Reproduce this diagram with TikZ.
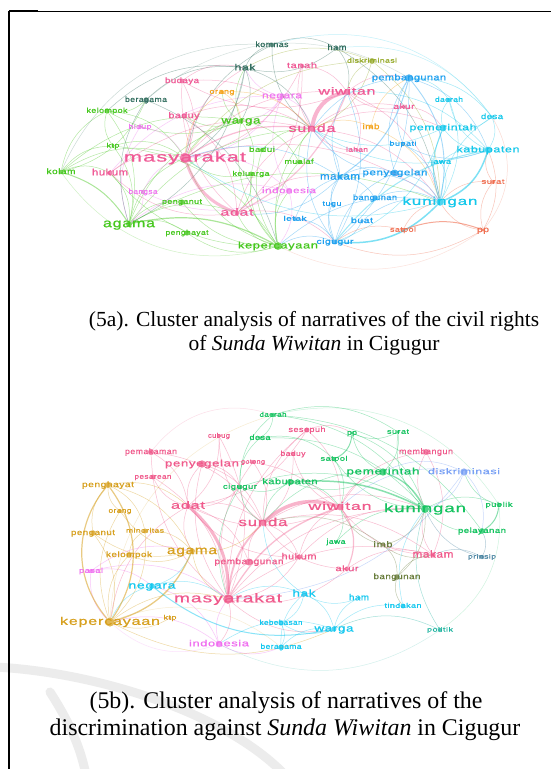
\documentclass[tikz,border=0pt]{standalone}
\usepackage{fontspec}
\usepackage{graphicx}
\setmainfont{Liberation Serif}
\newfontfamily\lblfont[LetterSpace=5,FakeBold=0.6]{Liberation Sans}

\definecolor{cpk}{RGB}{240,90,150}
\definecolor{cvi}{RGB}{240,120,240}
\definecolor{cgr}{RGB}{70,200,30}
\definecolor{cdt}{RGB}{50,110,95}
\definecolor{col}{RGB}{150,170,40}
\definecolor{cor}{RGB}{245,165,30}
\definecolor{cbl}{RGB}{30,160,240}
\definecolor{ccy}{RGB}{20,200,235}
\definecolor{csa}{RGB}{240,110,80}
\definecolor{bpk}{RGB}{240,90,140}
\definecolor{bgr}{RGB}{20,195,95}
\definecolor{bdi}{RGB}{120,160,245}
\definecolor{bgo}{RGB}{215,160,30}
\definecolor{bvi}{RGB}{240,110,240}
\definecolor{bcy}{RGB}{20,200,240}
\definecolor{bte}{RGB}{30,180,160}
\definecolor{bsl}{RGB}{70,130,160}
\definecolor{bol}{RGB}{105,125,60}

\def\topnodes{masy/185/158/cpk/122/10.7/masyarakat, adat/237/213/cpk/33/7.9/adat, sunda/312/129/cpk/47/8.8/sunda, wiw/347/92/cpk/57/7.9/wiwitan, hukum/110/173/cpk/36/7.2/hukum, budaya/182/81/cpk/34/6.1/budaya, baduy/184/116/cpk/31/6.5/baduy, tanah/302/66/cpk/30/6.3/tanah, akur/404/107/cpk/21/5.8/akur, lahan/357/150/cpk/22/5.2/lahan, negara/282/96/cvi/40/6.8/negara, indo/289/191/cvi/54/6.3/indonesia, hidup/140/127/cvi/23/5.3/hidup, bangsa/143/192/cvi/29/5.5/bangsa, warga/241/121/cgr/39/7.6/warga, agama/129/224/cgr/52/9.5/agama, kep/278/246/cgr/80/7.3/kepercayaan, kelompok/107/111/cgr/41/5.7/kelompok, ktp/113/146/cgr/13/5.1/ktp, kolam/61/172/cgr/29/6.2/kolam, penganut/182/202/cgr/40/5.6/penganut, penghayat/187/233/cgr/43/5.5/penghayat, badui/262/150/cgr/26/5.7/badui, mualaf/299/162/cgr/29/5.5/mualaf, keluarga/251/174/cgr/37/5.3/keluarga, hak/245/68/cdt/21/7/hak, komnas/272/45/cdt/33/6/komnas, ham/337/48/cdt/19/6.5/ham, beragama/146/100/cdt/42/5.8/beragama, disk/372/61/col/50/5/diskriminasi, orang/222/92/cor/25/5.6/orang, imb/371/127/cor/17/6.1/imb, pemb/409/78/cbl/74/6.8/pembangunan, makam/340/177/cbl/40/7.8/makam, penye/395/173/cbl/65/6.7/penyegelan, bangunan/375/198/cbl/44/6/bangunan, bupati/403/144/cbl/27/5.2/bupati, tugu/332/204/cbl/19/5.4/tugu, letak/295/219/cbl/23/5.3/letak, buat/362/221/cbl/22/6/buat, cigugur/335/242/cbl/37/5.8/cigugur, kuningan/440/202/ccy/75/8.8/kuningan, kab/488/150/ccy/63/7/kabupaten, pemerintah/443/128/ccy/67/6.8/pemerintah, daerah/449/100/ccy/28/5.4/daerah, desa/492/117/ccy/22/6/desa, jawa/441/162/ccy/20/5.6/jawa, surat/493/182/csa/23/5.3/surat, satpol/403/230/csa/26/5.1/satpol, pp/483/230/csa/12/6.3/pp}

\def\botnodes{daerah/273/415/bgr/27/5.2/daerah, sesepuh/307/430/bpk/37/5.8/sesepuh, pp/352/433/bgr/10/5.6/pp, surat/398/432/bgr/22/5.2/surat, cubug/219/436/bpk/22/5.2/cubug, desa/260/438/bgr/21/5.8/desa, pemak/151/452/bpk/52/6.2/pemakaman, memb/426/452/bpk/54/6.3/membangun, baduy/293/454/bpk/25/5.6/baduy, satpol/334/459/bgr/27/5.2/satpol, penye/202/464/bpk/74/7.3/penyegelan, gotong/253/462/bpk/24/4.9/gotong, pemer/383/472/bgr/73/7.3/pemerintah, disk/464/472/bdi/72/6.3/diskriminasi, pesarean/153/477/bpk/37/5.3/pesarean, kab/290/482/bgr/55/6.4/kabupaten, penghayat/108/485/bgo/52/6.2/penghayat, cigugur/240/487/bgr/34/5.5/cigugur, adat/188/506/bpk/34/8.1/adat, wiw/340/507/bpk/63/8.5/wiwitan, kun/425/509/bgr/82/9.4/kuningan, publik/499/505/bgr/27/5.2/publik, orang/120/511/bgo/23/5.3/orang, sunda/263/523/bpk/49/9/sunda, penganut/93/533/bgo/44/6/penganut, minor/145/531/bgo/38/5/minoritas, pelay/482/531/bgr/48/5.8/pelayanan, jawa/336/542/bgr/19/5.4/jawa, imb/383/545/bol/19/6.5/imb, agama/192/551/bgo/50/9.2/agama, kelompok/129/555/bgo/46/6.1/kelompok, hukum/299/557/bpk/35/7/hukum, makam/433/555/bpk/41/7.9/makam, prinsip/482/557/bsl/28/4.9/prinsip, pemb/249/562/bpk/69/6.5/pembangunan, pasal/91/571/bvi/24/5.5/pasal, akur/347/569/bpk/23/6.1/akur, bangunan/397/577/bol/47/6.2/bangunan, negara/152/586/bcy/47/7.6/negara, masy/228/599/bpk/108/9.8/masyarakat, hak/304/594/bcy/23/7.5/hak, ham/359/598/bcy/20/6.8/ham, tindakan/403/606/bcy/37/5.3/tindakan, kep/110/622/bgo/100/8.6/kepercayaan, ktp/170/618/bgo/13/5.1/ktp, kebebasan/281/623/bcy/43/5.5/kebebasan, warga/334/629/bcy/39/7.6/warga, politik/440/630/bte/26/4.7/politik, indo/219/644/bvi/60/6.8/indonesia, beragama/281/647/bcy/41/5.7/beragama}

\def\topedges{kolam/kelompok/cgr, kolam/ktp/cgr, kolam/hukum/cgr, kolam/masy/cgr, kolam/warga/cgr, kelompok/hak/cdt, beragama/hak/cdt, agama/penghayat/cgr, agama/penganut/cgr, agama/masy/cgr, agama/warga/cgr, agama/adat/cgr, ktp/agama/cgr, kelompok/agama/cgr, kep/warga/cgr, kep/badui/cgr, kep/mualaf/cgr, kep/keluarga/cgr, kep/penghayat/cgr, kep/penganut/cgr, kep/masy/cgr, kep/adat/cgr, kep/indo/cgr, warga/kelompok/cgr, warga/hak/cgr, warga/keluarga/cgr, warga/mualaf/cgr, warga/sunda/cgr, masy/warga/cgr, warga/orang/cgr, warga/baduy/cgr, beragama/kelompok/cgr, ktp/kelompok/cgr, kelompok/masy/cgr, ktp/kep/cgr, badui/sunda/cgr, mualaf/sunda/cgr, keluarga/adat/cgr, keluarga/masy/cgr, agama/kuningan/cgr, beragama/kolam/cgr, kep/sunda/cgr, agama/sunda/cgr, hukum/agama/cgr, kep/hukum/cgr, ktp/masy/cgr, masy/wiw/cpk, adat/sunda/cpk, sunda/akur/cpk, akur/wiw/cpk, hukum/masy/cpk, adat/hukum/cpk, budaya/masy/cpk, budaya/sunda/cpk, adat/budaya/cpk, baduy/masy/cpk, baduy/adat/cpk, baduy/sunda/cpk, tanah/wiw/cpk, sunda/tanah/cpk, tanah/masy/cpk, lahan/sunda/cpk, wiw/lahan/cpk, adat/makam/cpk, sunda/kuningan/cpk, wiw/kuningan/cpk, sunda/pemerintah/cpk, masy/kuningan/cpk, adat/cigugur/cpk, wiw/pemb/cpk, tanah/adat/cpk, akur/pemerintah/cpk, budaya/hak/cpk, hukum/sunda/cpk, masy/hak/cpk, wiw/budaya/cpk, negara/masy/cvi, hukum/negara/cvi, negara/hak/cvi, indo/negara/cvi, masy/indo/cvi, indo/kep/cvi, agama/indo/cvi, hidup/masy/cvi, agama/hidup/cvi, bangsa/masy/cvi, indo/bangsa/cvi, bangsa/agama/cvi, negara/warga/cvi, negara/sunda/cvi, hak/komnas/cdt, ham/hak/cdt, hak/warga/cdt, hak/masy/cdt, hak/sunda/cdt, komnas/ham/cdt, sunda/komnas/cdt, ham/wiw/cdt, ham/kuningan/cdt, agama/beragama/cdt, beragama/kep/cdt, hak/agama/cdt, masy/komnas/cdt, disk/sunda/col, wiw/disk/col, disk/kuningan/col, masy/disk/col, hak/disk/col, orang/sunda/cor, masy/orang/cor, orang/warga/cor, imb/pemb/cor, sunda/imb/cor, imb/kuningan/cor, sunda/pemb/cbl, pemb/cigugur/cbl, penye/pemb/cbl, pemb/kab/cbl, bupati/pemb/cbl, makam/penye/cbl, sunda/makam/cbl, cigugur/makam/cbl, makam/kuningan/cbl, penye/kuningan/cbl, cigugur/penye/cbl, bangunan/kuningan/cbl, makam/bangunan/cbl, bupati/kuningan/cbl, kab/bupati/cbl, tugu/makam/cbl, cigugur/tugu/cbl, letak/makam/cbl, letak/cigugur/cbl, buat/cigugur/cbl, buat/kuningan/cbl, wiw/cigugur/cbl, cigugur/sunda/cbl, makam/adat/cbl, penye/sunda/cbl, masy/makam/cbl, makam/wiw/cbl, kep/cigugur/cbl, kep/kuningan/cbl, daerah/kuningan/ccy, kuningan/desa/ccy, jawa/kuningan/ccy, kab/pemerintah/ccy, desa/kab/ccy, kab/daerah/ccy, pemerintah/daerah/ccy, desa/pemerintah/ccy, pemerintah/sunda/ccy, kab/sunda/ccy, pemb/daerah/ccy, jawa/kab/ccy, wiw/kab/ccy, kuningan/masy/ccy, pemerintah/cigugur/ccy, pemb/desa/ccy, pp/surat/csa, pp/kuningan/csa, surat/kab/csa, kuningan/surat/csa, cigugur/satpol/csa, satpol/kuningan/csa, kab/pp/csa, pp/cigugur/csa}

\def\topthick{sunda/wiw/cpk/4/0.45/35, adat/masy/cpk/3/0.4/25, masy/sunda/cpk/1.2/0.4/20, wiw/adat/cpk/1.2/0.35/20, agama/kep/cgr/1.2/0.45/20, kolam/agama/cgr/1/0.45/20, kuningan/cigugur/ccy/1.5/0.55/25, kab/kuningan/ccy/1.5/0.55/25, kuningan/pemerintah/ccy/1/0.45/20, satpol/pp/csa/1/0.6/20, pemb/makam/cbl/1/0.4/20, pemb/kuningan/cbl/0.9/0.4/25, cigugur/kab/ccy/1/0.4/20, kolam/komnas/cdt/0.5/0.25/35, komnas/desa/ccy/0.5/0.25/35, desa/pp/csa/0.5/0.25/35, pp/kep/csa/0.5/0.2/30, kep/kolam/cgr/0.5/0.25/35, beragama/pemb/cdt/0.5/0.2/35, ham/desa/ccy/0.5/0.25/30}

\def\botedges{adat/sunda/bpk, wiw/adat/bpk, akur/sunda/bpk, hukum/wiw/bpk, sunda/hukum/bpk, hukum/masy/bpk, adat/penye/bpk, penye/sunda/bpk, masy/penye/bpk, penye/cigugur/bpk, pemak/adat/bpk, masy/pemak/bpk, adat/pesarean/bpk, pesarean/masy/bpk, cubug/adat/bpk, sunda/cubug/bpk, sesepuh/adat/bpk, sunda/sesepuh/bpk, sesepuh/wiw/bpk, masy/sesepuh/bpk, baduy/sunda/bpk, wiw/baduy/bpk, gotong/sunda/bpk, masy/gotong/bpk, kun/memb/bpk, memb/makam/bpk, wiw/memb/bpk, makam/wiw/bpk, sunda/makam/bpk, makam/kun/bpk, masy/makam/bpk, pemb/sunda/bpk, masy/pemb/bpk, adat/pemb/bpk, akur/masy/bpk, cigugur/adat/bpk, agama/adat/bpk, sunda/kun/bpk, masy/kun/bpk, warga/masy/bpk, masy/indo/bpk, kep/adat/bpk, hukum/adat/bpk, wiw/pemer/bpk, akur/makam/bpk, sesepuh/pp/bpk, hukum/kun/bpk, pemak/sunda/bpk, cubug/masy/bpk, penye/wiw/bpk, kun/satpol/bgr, pp/kun/bgr, kun/surat/bgr, daerah/kun/bgr, desa/kun/bgr, kun/publik/bgr, pelay/kun/bgr, jawa/kun/bgr, cigugur/kun/bgr, pemer/kab/bgr, kab/cigugur/bgr, sunda/kab/bgr, surat/pp/bgr, pemer/pp/bgr, surat/pemer/bgr, cigugur/desa/bgr, daerah/desa/bgr, cigugur/daerah/bgr, sunda/cigugur/bgr, masy/cigugur/bgr, publik/disk/bgr, wiw/jawa/bgr, satpol/wiw/bgr, sunda/pemer/bgr, daerah/pelay/bgr, desa/satpol/bgr, kab/wiw/bgr, daerah/surat/bgr, kep/kelompok/bgo, minor/kep/bgo, kep/orang/bgo, ktp/kep/bgo, penghayat/agama/bgo, agama/kelompok/bgo, minor/agama/bgo, agama/penganut/bgo, masy/agama/bgo, penganut/penghayat/bgo, orang/penghayat/bgo, penghayat/minor/bgo, kelompok/minor/bgo, agama/orang/bgo, sunda/agama/bgo, kep/masy/bgo, warga/kep/bgo, penghayat/adat/bgo, penganut/kep/bgo, negara/masy/bcy, hak/warga/bcy, masy/hak/bcy, hak/kebebasan/bcy, beragama/hak/bcy, warga/ham/bcy, ham/hak/bcy, warga/tindakan/bcy, tindakan/kun/bcy, kebebasan/beragama/bcy, warga/kebebasan/bcy, indo/warga/bcy, beragama/warga/bcy, agama/negara/bcy, hak/sunda/bcy, kep/negara/bcy, indo/masy/bvi, kep/indo/bvi, negara/indo/bvi, pasal/negara/bvi, kep/pasal/bvi, pasal/agama/bvi, beragama/indo/bvi, pasal/masy/bvi, kun/imb/bol, imb/bangunan/bol, imb/wiw/bol, makam/imb/bol, bangunan/makam/bol, kun/bangunan/bol, tindakan/bangunan/bol, sunda/imb/bol, disk/kun/bdi, pemer/disk/bdi, disk/pelay/bdi, wiw/disk/bdi, disk/masy/bdi, politik/kun/bte, warga/politik/bte, prinsip/kun/bsl, pelay/prinsip/bsl, makam/prinsip/bsl}

\def\botthick{sunda/wiw/bpk/3.5/0.45/30, adat/masy/bpk/3/0.45/25, masy/sunda/bpk/1.8/0.4/20, masy/wiw/bpk/1.3/0.4/20, wiw/akur/bpk/1.2/0.4/30, kab/kun/bgr/1.5/0.5/15, pemer/kun/bgr/1.2/0.5/20, publik/pelay/bgr/1/0.5/25, kep/penghayat/bgo/1.2/0.55/40, penghayat/kep/bgo/1.2/0.55/35, agama/kep/bgo/1.3/0.55/25, warga/negara/bcy/1/0.5/25, pp/satpol/bgr/1/0.5/30, kep/daerah/bgo/0.5/0.2/35, daerah/publik/bgr/0.5/0.2/35, publik/politik/bgr/0.5/0.2/30, politik/indo/bte/0.5/0.2/30, indo/kep/bvi/0.5/0.2/30, pemak/daerah/bpk/0.5/0.2/35, kep/beragama/bgo/0.5/0.2/30}

\begin{document}
\begin{tikzpicture}[x=1pt,y=-1pt,
  dot/.style={circle, inner sep=0pt, fill opacity=0.75, draw=none},
  lbl/.style={inner sep=0pt, anchor=center},
  edg/.style={line width=0.5pt, draw opacity=0.4},
  captxta/.style={font=\fontsize{21.5}{24}\selectfont, inner sep=0pt, anchor=center},
  captxtb/.style={font=\fontsize{23.9}{27}\selectfont, inner sep=0pt, anchor=center},
  frameline/.style={line width=2pt, black},
  wmark/.style={line width=9pt, color=gray!15, line cap=round}]
\useasboundingbox (0,0) rectangle (551,769);
\fill[white] (0,0) rectangle (551,769);

% watermark arcs
\draw[wmark] (-5,667) .. controls (95,672) and (225,712) .. (285,775);
\draw[wmark] (50,692) .. controls (68,720) and (80,745) .. (86,775);

% frame
\draw[frameline] (9,11) -- (9,769);
\draw[line width=1pt] (9,11) -- (551,11);
\draw[frameline] (9,11) -- (38,11);

% ---------- top network ----------
\foreach \n/\x/\y/\col/\w/\f/\lab in \topnodes {
  \pgfmathsetmacro\ds{2.5+\w/15}
  \node[dot, fill=\col, minimum size=\ds pt] (t\n) at (\x,\y) {};
}
\foreach \a/\b/\col in \topedges {
  \draw[edg, draw=\col] (t\a) to[bend left=25] (t\b);
}
\foreach \a/\b/\col/\lw/\op/\bd in \topthick {
  \draw[draw=\col, line width=\lw pt, draw opacity=\op] (t\a) to[bend left=\bd] (t\b);
}
\foreach \n/\x/\y/\col/\w/\f/\lab in \topnodes {
  \pgfmathsetmacro\hh{0.94*\f}
  \node[lbl, text=\col] (tl\n) at (t\n) {\resizebox{\w pt}{\hh pt}{\lblfont\vphantom{kg}\lab}};
}

% ---------- bottom network ----------
\foreach \n/\x/\y/\col/\w/\f/\lab in \botnodes {
  \pgfmathsetmacro\ds{2.5+\w/15}
  \node[dot, fill=\col, minimum size=\ds pt] (b\n) at (\x,\y) {};
}
\foreach \a/\b/\col in \botedges {
  \draw[edg, draw=\col] (b\a) to[bend left=25] (b\b);
}
\foreach \a/\b/\col/\lw/\op/\bd in \botthick {
  \draw[draw=\col, line width=\lw pt, draw opacity=\op] (b\a) to[bend left=\bd] (b\b);
}
\foreach \n/\x/\y/\col/\w/\f/\lab in \botnodes {
  \pgfmathsetmacro\hh{0.94*\f}
  \node[lbl, text=\col] (bl\n) at (b\n) {\resizebox{\w pt}{\hh pt}{\lblfont\vphantom{kg}\lab}};
}

% captions
\node[captxta] (c5a1) at (314,321) {(5a). Cluster analysis of narratives of the civil rights};
\node[captxta] (c5a2) at (314,345) {of \textit{Sunda Wiwitan} in Cigugur};
\node[captxtb] (c5b1) at (286,703) {(5b). Cluster analysis of narratives of the};
\node[captxtb] (c5b2) at (285,730) {discrimination against \textit{Sunda Wiwitan} in Cigugur};
\end{tikzpicture}
\end{document}
